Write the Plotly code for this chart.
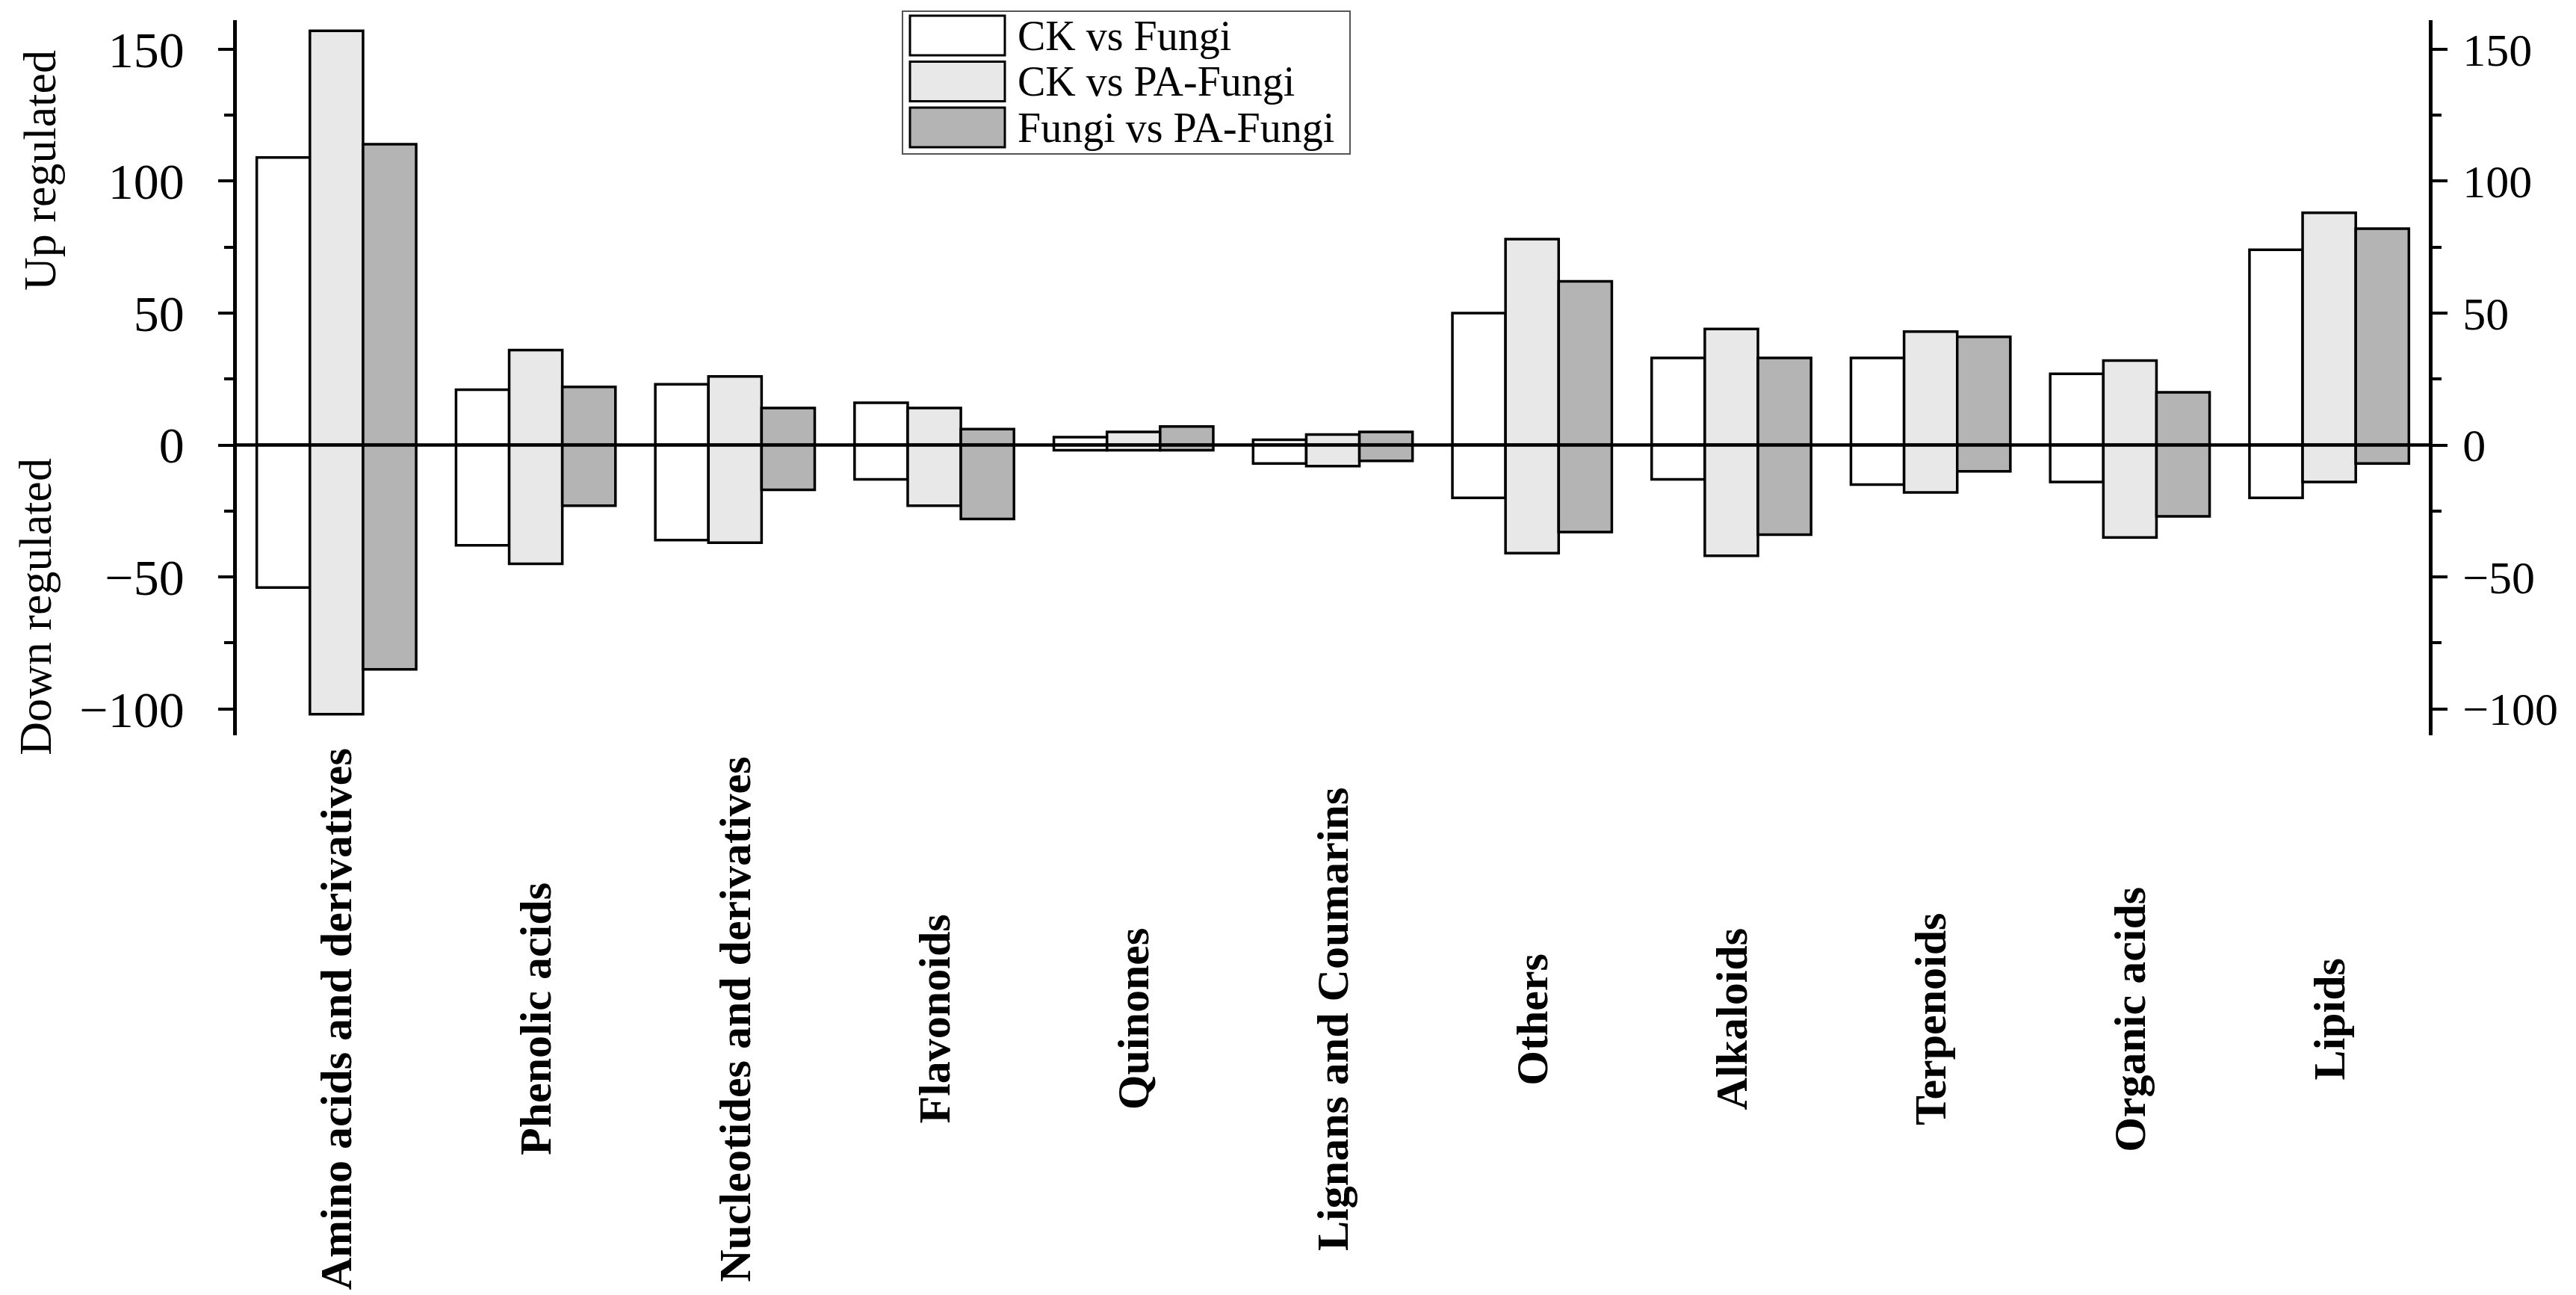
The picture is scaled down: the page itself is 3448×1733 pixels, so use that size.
import plotly.graph_objects as go

categories = ['Amino acids and derivatives', 'Phenolic acids', 'Nucleotides and derivatives',
              'Flavonoids', 'Quinones', 'Lignans and Coumarins', 'Others', 'Alkaloids',
              'Terpenoids', 'Organic acids', 'Lipids']
series = ['CK vs Fungi', 'CK vs PA-Fungi', 'Fungi vs PA-Fungi']

# up regulated counts
up_ck_fungi = [109, 21, 23, 16, 3, 2, 50, 33, 33, 27, 74]
up_ck_pa = [157, 36, 26, 14, 5, 4, 78, 44, 43, 32, 88]
up_fungi_pa = [114, 22, 14, 6, 7, 5, 62, 33, 41, 20, 82]
# down regulated counts
down_ck_fungi = [-54, -38, -36, -13, -2, -7, -20, -13, -15, -14, -20]
down_ck_pa = [-102, -45, -37, -23, -2, -8, -41, -42, -18, -35, -14]
down_fungi_pa = [-85, -23, -17, -28, -2, -6, -33, -34, -10, -27, -7]

colors = ['#FFFFFF', '#E8E8E8', '#B4B4B4']
ups = [up_ck_fungi, up_ck_pa, up_fungi_pa]
downs = [down_ck_fungi, down_ck_pa, down_fungi_pa]

serif = 'Times New Roman, Liberation Serif, serif'
x_idx = list(range(len(categories)))

fig = go.Figure()
for i in range(len(series)):
    for vals in (ups[i], downs[i]):
        fig.add_trace(go.Bar(
            x=x_idx, y=vals, name=series[i], offsetgroup=str(i),
            marker=dict(color=colors[i], line=dict(color='black', width=3.5)),
            showlegend=False))

# empty trace so the right-hand axis gets drawn
fig.add_trace(go.Scatter(x=[None], y=[None], yaxis='y2', showlegend=False, hoverinfo='skip'))

yrange = [-110, 161]
axis_style = dict(
    range=yrange, showline=True, linecolor='black', linewidth=4.5,
    ticks='outside', ticklen=20, tickwidth=4, tickcolor='black',
    tickvals=[-100, -50, 0, 50, 100, 150],
    minor=dict(dtick=25, ticks='outside', ticklen=12, tickwidth=4, tickcolor='black'),
    showgrid=False, zeroline=False, automargin=False,
)

fig.update_layout(
    width=3448, height=1733,
    margin=dict(l=309, r=205, t=19, b=757),
    paper_bgcolor='white', plot_bgcolor='white',
    barmode='group', bargap=0.2, bargroupgap=0,
    xaxis=dict(range=[-0.5, 10.5], showticklabels=False, showline=False,
               ticks='', showgrid=False, zeroline=False, automargin=False),
    yaxis=dict(side='left', tickfont=dict(family=serif, size=68, color='black'),
               ticklabelstandoff=32, **axis_style),
    yaxis2=dict(side='right', overlaying='y', anchor='x',
                tickfont=dict(family=serif, size=62, color='black'),
                ticklabelstandoff=8, **axis_style),
)

# zero line over the bars
fig.add_shape(type='line', xref='paper', yref='y', x0=0, x1=1, y0=0, y1=0,
              line=dict(color='black', width=4.5), layer='above')

# category labels, rotated and centred below the plot
for i, name in enumerate(categories):
    fig.add_annotation(x=i, y=-0.397, xref='x', yref='paper', text='<b>' + name + '</b>',
                       textangle=-90, showarrow=False, xanchor='center', yanchor='middle',
                       font=dict(family=serif, size=60, color='black'))

# y titles
fig.add_annotation(x=-0.09, y=0.79, xref='paper', yref='paper', text='Up regulated',
                   textangle=-90, showarrow=False, xanchor='center', yanchor='middle',
                   font=dict(family=serif, size=62, color='black'))
fig.add_annotation(x=-0.092, y=0.18, xref='paper', yref='paper', text='Down regulated',
                   textangle=-90, showarrow=False, xanchor='center', yanchor='middle',
                   font=dict(family=serif, size=62, color='black'))

# legend box drawn by hand to get large swatches
pw, ph = 2934.0, 957.0
def px(v):
    return (v - 309) / pw
def py(v):
    return (976 - v) / ph

fig.add_shape(type='rect', xref='paper', yref='paper', x0=px(1200), x1=px(1799),
              y0=py(198), y1=py(7), line=dict(color='#555555', width=2), fillcolor='white')
for i, name in enumerate(series):
    top = 13 + i * 61.5
    fig.add_shape(type='rect', xref='paper', yref='paper', x0=px(1210), x1=px(1337),
                  y0=py(top + 53), y1=py(top), fillcolor=colors[i],
                  line=dict(color='black', width=3))
    fig.add_annotation(x=px(1352), y=py(top + 27), xref='paper', yref='paper', text=name,
                       showarrow=False, xanchor='left', yanchor='middle',
                       font=dict(family=serif, size=56, color='black'))

fig.write_html("out.html")
